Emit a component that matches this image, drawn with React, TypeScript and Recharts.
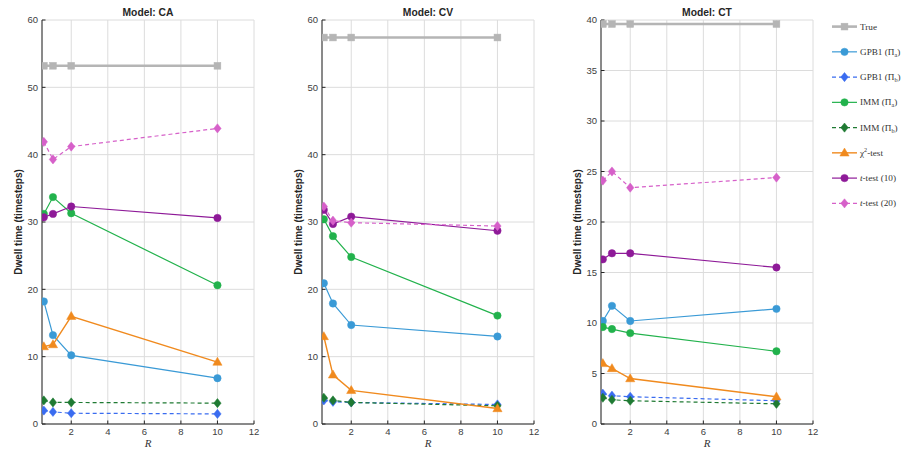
import React from 'react';
import { LineChart, Line, XAxis, YAxis, CartesianGrid, Legend } from 'recharts';

// ---- data ----
const rValues = [0.5, 1, 2, 10];
const xTicks = [2, 4, 6, 8, 10, 12];
const yTicks60 = [0, 10, 20, 30, 40, 50, 60];
const yTicks40 = [0, 5, 10, 15, 20, 25, 30, 35, 40];

// Model CA
const caTrue = [53.2, 53.2, 53.2, 53.2];
const caGpbA = [18.2, 13.2, 10.2, 6.8];
const caGpbB = [2.0, 1.8, 1.6, 1.5];
const caImmA = [31.2, 33.7, 31.3, 20.6];
const caImmB = [3.5, 3.2, 3.2, 3.1];
const caChi = [11.5, 11.8, 16.0, 9.2];
const caT10 = [30.7, 31.2, 32.3, 30.6];
const caT20 = [41.9, 39.3, 41.2, 43.9];

// Model CV
const cvTrue = [57.4, 57.4, 57.4, 57.4];
const cvGpbA = [20.9, 17.9, 14.7, 13.0];
const cvGpbB = [3.5, 3.3, 3.2, 2.9];
const cvImmA = [30.4, 27.9, 24.8, 16.1];
const cvImmB = [3.9, 3.5, 3.2, 2.7];
const cvChi = [13.0, 7.3, 5.0, 2.3];
const cvT10 = [31.8, 29.7, 30.8, 28.7];
const cvT20 = [32.3, 30.2, 29.9, 29.4];

// Model CT
const ctTrue = [39.6, 39.6, 39.6, 39.6];
const ctGpbA = [10.2, 11.7, 10.2, 11.4];
const ctGpbB = [3.0, 2.8, 2.7, 2.3];
const ctImmA = [9.6, 9.4, 9.0, 7.2];
const ctImmB = [2.6, 2.4, 2.3, 2.0];
const ctChi = [6.0, 5.5, 4.5, 2.7];
const ctT10 = [16.3, 16.9, 16.9, 15.5];
const ctT20 = [24.1, 25.0, 23.4, 24.4];

type Marker = 'square' | 'circle' | 'diamond' | 'triangle';
interface SeriesDef {
  key: string;
  color: string;
  dashed: boolean;
  marker: Marker;
  width: number;
}

const series: SeriesDef[] = [
  { key: 'trueV', color: '#b5b5b5', dashed: false, marker: 'square', width: 2.6 },
  { key: 'gpbA', color: '#3a9ad6', dashed: false, marker: 'circle', width: 1.2 },
  { key: 'gpbB', color: '#3a6cf0', dashed: true, marker: 'diamond', width: 1.2 },
  { key: 'immA', color: '#22b24c', dashed: false, marker: 'circle', width: 1.2 },
  { key: 'immB', color: '#1f7a33', dashed: true, marker: 'diamond', width: 1.2 },
  { key: 'chi', color: '#f08a1e', dashed: false, marker: 'triangle', width: 1.4 },
  { key: 't10', color: '#8e1a98', dashed: false, marker: 'circle', width: 1.2 },
  { key: 't20', color: '#d660c9', dashed: true, marker: 'diamond', width: 1.2 },
];

const build = (vals: number[][]) =>
  rValues.map((r, i) => {
    const row: Record<string, number> = { r };
    series.forEach((s, j) => {
      row[s.key] = vals[j][i];
    });
    return row;
  });

const caData = build([caTrue, caGpbA, caGpbB, caImmA, caImmB, caChi, caT10, caT20]);
const cvData = build([cvTrue, cvGpbA, cvGpbB, cvImmA, cvImmB, cvChi, cvT10, cvT20]);
const ctData = build([ctTrue, ctGpbA, ctGpbB, ctImmA, ctImmB, ctChi, ctT10, ctT20]);

const SANS = '"Liberation Sans", Arial, Helvetica, sans-serif';
const SERIF = '"Liberation Serif", "Times New Roman", serif';
const AXIS = '#262626';
const TICK = '#404040';

function drawMarker(m: Marker, cx: number, cy: number, color: string, key?: string | number) {
  if (cx == null || cy == null) return <g key={key} />;
  switch (m) {
    case 'square':
      return <rect key={key} x={cx - 3.4} y={cy - 3.4} width={6.8} height={6.8} fill={color} stroke={color} strokeWidth={0.5} />;
    case 'circle':
      return <circle key={key} cx={cx} cy={cy} r={3.7} fill={color} stroke={color} strokeWidth={0.5} />;
    case 'diamond':
      return (
        <path
          key={key}
          d={`M${cx},${cy - 4.6} L${cx + 3.7},${cy} L${cx},${cy + 4.6} L${cx - 3.7},${cy} Z`}
          fill={color}
          stroke={color}
          strokeWidth={0.5}
        />
      );
    case 'triangle':
      return (
        <path
          key={key}
          d={`M${cx},${cy - 4.8} L${cx + 4.6},${cy + 3.2} L${cx - 4.6},${cy + 3.2} Z`}
          fill={color}
          stroke={color}
          strokeWidth={0.5}
        />
      );
  }
}

const legendLabels: React.ReactNode[] = [
  <>True</>,
  <>GPB1 (Π<tspan fontSize={6.2} dy={2}>a</tspan><tspan dy={-2}>)</tspan></>,
  <>GPB1 (Π<tspan fontSize={6.2} dy={2}>b</tspan><tspan dy={-2}>)</tspan></>,
  <>IMM (Π<tspan fontSize={6.2} dy={2}>a</tspan><tspan dy={-2}>)</tspan></>,
  <>IMM (Π<tspan fontSize={6.2} dy={2}>b</tspan><tspan dy={-2}>)</tspan></>,
  <>χ<tspan fontSize={6.2} dy={-3.5}>2</tspan><tspan dy={3.5}>-test</tspan></>,
  <><tspan fontStyle="italic">t</tspan>-test (10)</>,
  <><tspan fontStyle="italic">t</tspan>-test (20)</>,
];

const LegendContent = () => (
  <svg width={76} height={205} style={{ display: 'block', overflow: 'visible' }}>
    {series.map((s, i) => {
      const y = 12.6 + i * 25.25;
      return (
        <g key={s.key}>
          <line
            x1={4}
            x2={29}
            y1={y}
            y2={y}
            stroke={s.color}
            strokeWidth={s.width}
            strokeDasharray={s.dashed ? '4 3' : undefined}
          />
          {drawMarker(s.marker, 16.5, y, s.color)}
          <text x={32} y={y} dy="0.33em" fontSize={9.2} fontFamily={SERIF} fill="#333">
            {legendLabels[i]}
          </text>
        </g>
      );
    })}
  </svg>
);

interface PanelProps {
  title: string;
  data: Record<string, number>[];
  yMax: number;
  yTicks: number[];
  left: number;
  width: number;
  marginRight: number;
  legend?: boolean;
}

const PLOT_LEFT = 42;

function Panel({ title, data, yMax, yTicks, left, width, marginRight, legend }: PanelProps) {
  const plotW = width - PLOT_LEFT - marginRight;
  return (
    <div style={{ position: 'absolute', left, top: 0, width, height: 450 }}>
      <div
        style={{
          position: 'absolute',
          left: PLOT_LEFT,
          top: 7,
          width: plotW,
          textAlign: 'center',
          fontFamily: SANS,
          fontWeight: 'bold',
          fontSize: 10.3,
          lineHeight: '12px',
          color: '#262626',
        }}
      >
        {title}
      </div>
      <LineChart width={width} height={450} data={data} margin={{ top: 20, right: marginRight, bottom: 6, left: 0 }}>
        <CartesianGrid stroke="#dcdcdc" strokeWidth={1} />
        <XAxis
          dataKey="r"
          type="number"
          domain={[0.4, 12]}
          ticks={xTicks}
          allowDataOverflow
          height={20}
          stroke={AXIS}
          tickSize={-3.5}
          tickMargin={8}
          tick={{ fontSize: 9.5, fontFamily: SANS, fill: TICK }}
          label={{
            content: (p: any) => {
              const vb = p.viewBox || {};
              return (
                <text
                  x={vb.x + vb.width / 2}
                  y={vb.y + 23}
                  textAnchor="middle"
                  fontFamily={SERIF}
                  fontStyle="italic"
                  fontSize={11}
                  fill="#333"
                >
                  R
                </text>
              );
            },
          }}
        />
        <YAxis
          type="number"
          domain={[0, yMax]}
          ticks={yTicks}
          width={PLOT_LEFT}
          stroke={AXIS}
          tickSize={-3.5}
          tickMargin={7.5}
          tick={{ fontSize: 9.5, fontFamily: SANS, fill: TICK }}
          label={{
            content: (p: any) => {
              const vb = p.viewBox || {};
              const cx = vb.x + 18;
              const cy = vb.y + vb.height / 2;
              return (
                <text
                  x={cx}
                  y={cy}
                  transform={`rotate(-90 ${cx} ${cy})`}
                  textAnchor="middle"
                  dominantBaseline="central"
                  fontFamily={SANS}
                  fontWeight="bold"
                  fontSize={10}
                  fill="#262626"
                >
                  Dwell time (timesteps)
                </text>
              );
            },
          }}
        />
        {series.map((s) => (
          <Line
            key={s.key}
            dataKey={s.key}
            type="linear"
            stroke={s.color}
            strokeWidth={s.width}
            strokeDasharray={s.dashed ? '4 3' : undefined}
            isAnimationActive={false}
            dot={(p: any) => drawMarker(s.marker, p.cx, p.cy, s.color, `${s.key}-${p.index}`)}
            activeDot={false}
          />
        ))}
        {legend && (
          <Legend
            layout="vertical"
            align="center"
            verticalAlign="middle"
            content={() => <LegendContent />}
            wrapperStyle={{ position: 'absolute', left: 269, top: 14, width: 76, height: 205 }}
          />
        )}
      </LineChart>
    </div>
  );
}

export default function App() {
  return (
    <div style={{ position: 'absolute', left: 0, top: 0, width: 903, height: 450, background: '#fff', overflow: 'hidden' }}>
      <Panel title="Model: CA" data={caData} yMax={60} yTicks={yTicks60} left={0} width={270} marginRight={16} />
      <Panel title="Model: CV" data={cvData} yMax={60} yTicks={yTicks60} left={280} width={270} marginRight={16} />
      <Panel title="Model: CT" data={ctData} yMax={40} yTicks={yTicks40} left={559} width={344} marginRight={90} legend />
    </div>
  );
}
